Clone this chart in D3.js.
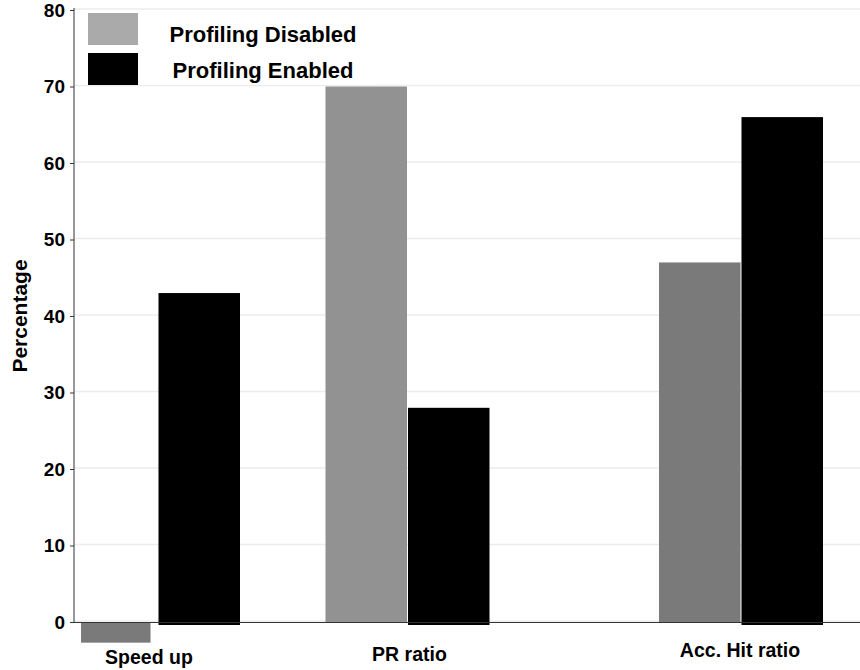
<!DOCTYPE html>
<html>
<head>
<meta charset="utf-8">
<script src="https://cdn.jsdelivr.net/npm/d3@7"></script>
<style>
  body { margin: 0; background: #fff; }
  text { font-family: "Liberation Sans", Arial, Helvetica, sans-serif; font-weight: bold; fill: #000; }
</style>
</head>
<body>
<svg id="chart" width="860" height="670"></svg>
<script>
// data
var categories = ["Speed up", "PR ratio", "Acc. Hit ratio"];
var disabledValues = [-2.7, 70, 47];
var enabledValues = [43, 28, 66];
var disabledColors = ["#7a7a7a", "#929292", "#7a7a7a"];
var seriesNames = ["Profiling Disabled", "Profiling Enabled"];
var seriesColors = ["#aaaaaa", "#000000"];
var yTicks = [0, 10, 20, 30, 40, 50, 60, 70, 80];

var svg = d3.select("#chart");
var mLeft = 74, mRight = 860, mTop = 10, mBottom = 622;

var y = d3.scaleLinear().domain([0, 80]).range([mBottom, mTop]);
// groups are not evenly spaced in the original
var xGroup = d3.scaleOrdinal().domain(categories).range([158, 407.5, 741]);
var xSub = d3.scaleBand().domain(["disabled", "enabled"]).range([-82, 82]).paddingInner(0.012);

// grid
svg.append("g").selectAll("line")
  .data(yTicks)
  .enter().append("line")
  .attr("x1", mLeft).attr("x2", mRight)
  .attr("y1", function(d) { return y(d) - 1; })
  .attr("y2", function(d) { return y(d) - 1; })
  .attr("stroke", "#ececec")
  .attr("stroke-width", 1.5);

// bars
var rows = categories.map(function(c, i) {
  return { cat: c, disabled: disabledValues[i], enabled: enabledValues[i], dcol: disabledColors[i] };
});
var bars = svg.append("g");
rows.forEach(function(r) {
  [["disabled", r.disabled, r.dcol], ["enabled", r.enabled, "#000"]].forEach(function(b) {
    var v = b[1];
    var bx = xGroup(r.cat) + xSub(b[0]), bw = xSub.bandwidth();
    if (v < 0) { bx += 5; bw -= 12; } // the negative bar is drawn narrower in the original
    bars.append("rect")
      .attr("x", bx)
      .attr("width", bw)
      .attr("y", v >= 0 ? y(v) : y(0))
      .attr("height", Math.abs(y(v) - y(0)) + (b[0] == "enabled" ? 3 : 0))
      .attr("fill", b[2]);
  });
});

// axes
var yAxis = svg.append("g")
  .attr("transform", "translate(" + mLeft + ",0)")
  .call(d3.axisLeft(y).tickValues(yTicks).tickSize(4).tickPadding(5));
yAxis.select(".domain").attr("stroke", "#333").attr("d", "M0," + (mTop - 2) + "V" + mBottom);
yAxis.selectAll(".tick line").attr("stroke", "#333");
yAxis.selectAll(".tick text")
  .style("font-size", "19px")
  .style("font-family", "'Liberation Sans', Arial, sans-serif")
  .style("font-weight", "bold")
  .attr("fill", "#000");

svg.append("line")
  .attr("x1", mLeft).attr("x2", mRight)
  .attr("y1", mBottom + 0.5).attr("y2", mBottom + 0.5)
  .attr("stroke", "#333").attr("stroke-width", 1);

// category labels
svg.append("g").selectAll("text")
  .data(categories)
  .enter().append("text")
  .attr("x", function(d, i) { return xGroup(d) + [-9, 2, -1][i]; })
  .attr("y", function(d, i) { return [664, 661, 657][i]; })
  .attr("text-anchor", "middle")
  .style("font-size", "19.5px")
  .text(function(d) { return d; });

// y title
svg.append("text")
  .attr("transform", "translate(27,316) rotate(-90)")
  .attr("text-anchor", "middle")
  .style("font-size", "21px")
  .text("Percentage");

// legend
var legend = svg.append("g");
legend.append("rect").attr("x", 78).attr("y", 11).attr("width", 300).attr("height", 74).attr("fill", "#fff");
seriesNames.forEach(function(n, i) {
  legend.append("rect")
    .attr("x", 88).attr("y", 13 + i * 40)
    .attr("width", 50).attr("height", 32)
    .attr("fill", seriesColors[i]);
  legend.append("text")
    .attr("x", 263).attr("y", 42 + i * 36)
    .attr("text-anchor", "middle")
    .style("font-size", "22px")
    .text(n);
});
</script>
</body>
</html>
